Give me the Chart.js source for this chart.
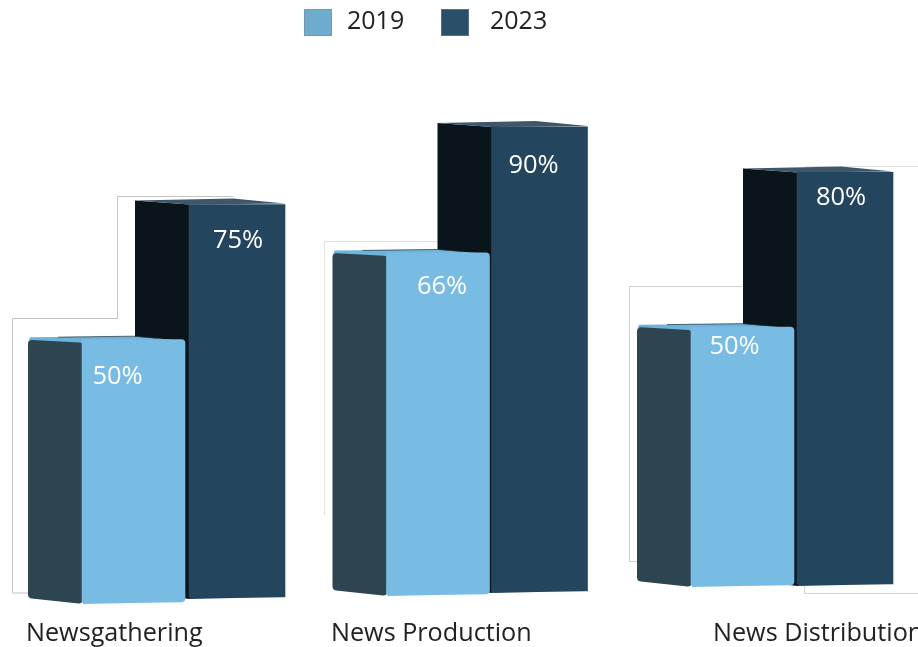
<!DOCTYPE html>
<html>
<head>
<meta charset="utf-8">
<title>Newsroom AI use</title>
<script src="https://cdn.jsdelivr.net/npm/chart.js@4"></script>
<style>
    html, body { margin: 0; padding: 0; background: #fff; overflow: hidden; }
    canvas { display: block; }
</style>
</head>
<body>
<canvas id="chart" width="918" height="647"></canvas>
<script>
"use strict";

const categories = ["Newsgathering", "News Production", "News Distribution"];
const seriesNames = ["2019", "2023"];
const values2019 = [50, 66, 50];
const values2023 = [75, 90, 80];

const FONT = '"Open Sans", sans-serif';
const frontColors = ["#78bce3", "#23465e"];
const sideColors = ["#2d4451", "#0a141b"];
const legendColors = ["#6fabcf", "#2a4f69"];

// the floor rises toward the right and the boxes recede a little, per group
const floorShift = [[2, -6, -15], [-3, -9, -16]];
const depthScale = [1.005, 0.99, 0.988];
const slopeTop = [3, 1];
const slopeBottom = [2, 2];
const darkBarNudge = [4, 2, 3];
const labelOffset = [[-16, 4, -8], [1, -6, -4]];
const labelDrop = [[37, 34, 20], [37, 40, 26]];
const nameStart = [26, 331, 713];

// thin outlines sitting behind the boxes
const backdrop = [
    { color: "#c4c4c4", pts: [[28, 593], [12.5, 593], [12.5, 318.5], [117.5, 318.5], [117.5, 196.5], [233, 196.5]] },
    { color: "#e2e2e2", pts: [[324.5, 515], [324.5, 241.5], [437, 241.5]] },
    { color: "#d0d0d0", pts: [[637, 561.5], [629.5, 561.5], [629.5, 286.5], [742, 286.5]] },
    { color: "#d0d0d0", pts: [[804.5, 583], [804.5, 593.5], [918, 593.5]] },
    { color: "#e2e2e2", pts: [[805, 166.5], [918, 166.5]] }
];

function trace(ctx, pts) {
    ctx.beginPath();
    pts.forEach(function (p, i) {
        if (i === 0) ctx.moveTo(p[0], p[1]); else ctx.lineTo(p[0], p[1]);
    });
}

function poly(ctx, pts, fill) {
    trace(ctx, pts);
    ctx.closePath();
    ctx.fillStyle = fill;
    ctx.fill();
}

// same as poly but the corners are eased off by r
function softPoly(ctx, pts, r, fill) {
    const n = pts.length;
    ctx.beginPath();
    ctx.moveTo((pts[0][0] + pts[n - 1][0]) / 2, (pts[0][1] + pts[n - 1][1]) / 2);
    pts.forEach(function (p, i) {
        const next = pts[(i + 1) % n];
        ctx.arcTo(p[0], p[1], next[0], next[1], r);
    });
    ctx.closePath();
    ctx.fillStyle = fill;
    ctx.fill();
}

const boxes = {
    id: "boxes",
    // slide each bar onto its own floor line, heights still come from the y scale
    afterDatasetsUpdate(chart) {
        const y = chart.scales.y;
        const zero = y.getPixelForValue(0);
        chart.data.datasets.forEach(function (ds, d) {
            chart.getDatasetMeta(d).data.forEach(function (el, i) {
                const base = zero + floorShift[d][i];
                const top = base - (zero - y.getPixelForValue(ds.data[i])) * depthScale[i];
                el.topRight = top;
                el.baseRight = base;
                el.y = d === 0 ? top : top + slopeTop[d];
                el.base = base;
                if (d === 1) el.x += darkBarNudge[i];
            });
        });
    },
    beforeDatasetsDraw(chart) {
        const ctx = chart.ctx;
        ctx.save();
        ctx.lineWidth = 1;
        backdrop.forEach(function (line) {
            trace(ctx, line.pts);
            ctx.strokeStyle = line.color;
            ctx.stroke();
        });
        ctx.restore();
    },
    // side and top faces go down first, the bar itself is the front face
    beforeDatasetDraw(chart, args) {
        const ctx = chart.ctx;
        const d = args.index;
        chart.getDatasetMeta(d).data.forEach(function (el) {
            const left = el.x - el.width / 2;
            const right = el.x + el.width / 2;
            const topL = el.topRight + slopeTop[d];
            const baseL = el.baseRight + slopeBottom[d];
            const backX = left - 54;

            if (d === 0) {
                // the light boxes have a pale lid with a hairline along its back edge
                poly(ctx, [[backX + 2, topL - 5.5], [right - 52, el.topRight - 3.5], [right - 2, el.topRight + 1], [left, topL + 3], [backX, topL]], "#6fb2da");
                trace(ctx, [[backX + 30, topL - 5.5], [right - 52, el.topRight - 3.5], [right - 28, el.topRight - 1.5]]);
                ctx.strokeStyle = "rgba(30,50,62,0.7)";
                ctx.lineWidth = 1;
                ctx.stroke();
                softPoly(ctx, [[backX, topL - 3], [left + 1, topL], [left + 1, baseL], [backX, baseL - 6]], 4, sideColors[d]);
            } else {
                poly(ctx, [[backX, topL - 4], [left + 1, topL], [left + 1, baseL], [backX, baseL - 6]], sideColors[d]);
                poly(ctx, [[backX, topL - 4], [left, topL], [right, el.topRight], [right - 52, el.topRight - 5]], "#3f566b");
            }

            // the front's lower edge leans, fill the sliver the upright bar leaves
            poly(ctx, [[left, el.baseRight - 5], [left + 1, baseL], [right - 3, el.baseRight], [right - 3, el.baseRight - 5]], frontColors[d]);
        });
    },
    afterDatasetsDraw(chart) {
        const ctx = chart.ctx;
        ctx.save();
        ctx.textBaseline = "middle";

        // percentages on the front faces
        ctx.font = "25.5px " + FONT;
        ctx.fillStyle = "#ffffff";
        ctx.textAlign = "center";
        chart.data.datasets.forEach(function (ds, d) {
            chart.getDatasetMeta(d).data.forEach(function (el, i) {
                ctx.fillText(ds.data[i] + "%", el.x + labelOffset[d][i], el.topRight + labelDrop[d][i]);
            });
        });

        // category names under each group
        ctx.fillStyle = "#222222";
        ctx.textAlign = "left";
        ctx.textBaseline = "alphabetic";
        ctx.font = "25.2px " + FONT;
        categories.forEach(function (name, i) {
            ctx.fillText(name, nameStart[i], 641);
        });

        // legend
        const legendBox = [304, 441];
        const legendText = [347, 490];
        ctx.font = "25px " + FONT;
        seriesNames.forEach(function (name, i) {
            ctx.fillStyle = legendColors[i];
            ctx.fillRect(legendBox[i], 9, 28, 27);
            ctx.strokeStyle = "rgba(120,140,155,0.6)";
            ctx.lineWidth = 1;
            ctx.strokeRect(legendBox[i] + 0.5, 9.5, 27, 26);
            ctx.fillStyle = "#222222";
            ctx.fillText(name, legendText[i], 28.5);
        });
        ctx.restore();
    }
};

new Chart(document.getElementById("chart"), {
    type: "bar",
    data: {
        labels: categories,
        datasets: [
            {
                label: seriesNames[0],
                data: values2019,
                backgroundColor: frontColors[0],
                barThickness: 103,
                borderRadius: { topLeft: 0, topRight: 4, bottomLeft: 1, bottomRight: 4 },
                borderSkipped: false,
                clip: false
            },
            {
                label: seriesNames[1],
                data: values2023,
                backgroundColor: frontColors[1],
                barThickness: 96,
                clip: false
            }
        ]
    },
    plugins: [boxes],
    options: {
        responsive: false,
        animation: false,
        layout: { padding: { left: 185, right: 124, top: 78, bottom: 47 } },
        plugins: {
            legend: { display: false },
            tooltip: { enabled: false }
        },
        scales: {
            x: { display: false, offset: false },
            y: { display: false, min: 0, max: 100 }
        }
    }
});
</script>
</body>
</html>
